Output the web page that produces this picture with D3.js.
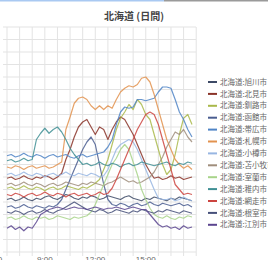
<!DOCTYPE html>
<html><head><meta charset="utf-8">
<script src="https://cdn.jsdelivr.net/npm/d3@7"></script>
<style>html,body{margin:0;padding:0;background:#fff;overflow:hidden}svg{display:block}</style>
</head><body>
<svg id="c" width="268" height="260"></svg>
<script>
const title = "北海道 (日間)";
const startTime = 6*60+45, stepMin = 15; // 45 points, 6:45 .. 17:45
const xTickLabels = ["6:00","9:00","12:00","15:00"];
const names = ["北海道:旭川市","北海道:北見市","北海道:釧路市","北海道:函館市","北海道:帯広市","北海道:札幌市","北海道:小樽市","北海道:苫小牧市","北海道:室蘭市","北海道:稚内市","北海道:網走市","北海道:根室市","北海道:江別市"];
const colors = ["#3d4a66","#8a3328","#a9b84a","#4a5d90","#4f84c6","#e2924e","#98b6e2","#a08e7c","#a8d48a","#3f8f94","#cc4440","#46507a","#5b458f"];
const s1 = [42,43,41,42,44,42,41,43,42,44,45,43,42,44,46,45,43,42,44,43,45,44,42,43,45,44,43,42,44,45,43,42,41,43,42,44,43,42,41,43,42,44,43,42,41];
const s2 = [59,60,58,59,61,59,58,60,59,61,60,58,60,63,74,82,92,100,104,106,100,94,100,98,90,98,104,108,106,100,94,86,78,70,64,59,60,58,59,61,59,60,58,59,60];
const s3 = [51,52,50,51,53,51,50,52,51,49,51,52,50,51,53,52,51,50,52,51,53,55,58,66,74,86,98,107,112,118,114,122,118,110,106,94,82,70,62,66,78,94,107,110,102];
const s4 = [36,37,35,36,38,36,35,37,36,35,37,36,38,42,50,58,66,74,82,88,92,86,70,54,42,38,37,39,38,36,38,39,37,38,40,38,37,39,38,37,38,39,37,38,36];
const s5 = [77,78,76,77,79,77,76,78,77,75,77,78,76,77,78,76,75,77,78,76,77,78,79,80,84,90,102,112,116,115,116,122,122,121,122,123,128,132,132,131,122,112,106,98,92];
const s6 = [68,67,69,68,66,68,69,67,68,69,67,68,70,72,98,108,119,123,124,122,117,114,117,114,117,115,122,128,131,133,132,134,139,140,136,126,114,102,90,82,74,70,67,69,66];
const s7 = [62,63,61,62,64,62,61,63,62,60,62,63,61,62,64,62,61,63,62,61,63,62,60,61,66,74,82,86,88,90,88,82,74,66,58,50,43,42,42,43,41,42,44,42,41];
const s8 = [54,55,53,54,56,54,53,55,54,52,54,55,53,54,56,55,54,53,55,54,56,55,54,53,55,56,58,60,58,56,57,55,56,58,60,64,70,76,84,90,96,94,98,92,88];
const s9 = [27,28,26,27,29,27,26,28,27,28,26,27,29,28,27,26,28,27,28,29,32,38,46,54,62,70,75,82,86,82,72,62,50,42,35,30,28,27,29,27,26,28,27,29,28];
const s10 = [73,74,72,73,75,73,74,90,95,99,95,98,100,96,90,83,78,74,70,71,69,70,72,70,69,71,70,68,70,71,69,70,72,71,70,69,70,71,72,70,69,71,70,72,71];
const s11 = [46,45,47,46,44,46,47,45,46,48,46,45,47,46,44,46,47,45,46,47,45,46,48,46,47,51,58,66,74,82,90,98,104,110,112,110,102,90,78,66,54,50,46,47,46];
const s12 = [32,31,33,32,30,32,33,31,32,34,32,31,33,34,36,38,40,38,36,34,33,32,34,33,31,32,34,33,32,31,33,32,34,33,32,31,33,32,34,33,32,31,33,32,31];
const s13 = [19,21,18,20,17,20,19,24,30,32,34,35,36,35,34,35,36,35,35,34,35,36,35,34,35,35,36,35,34,35,36,35,34,34,30,26,22,20,21,19,20,18,21,19,20];
const seriesValues = [s1,s2,s3,s4,s5,s6,s7,s8,s9,s10,s11,s12,s13];

const svg = d3.select("#c");
svg.append("rect").attr("x",0).attr("y",0).attr("width",164).attr("height",1.5).attr("fill","#a9c9f2");
svg.append("rect").attr("x",164).attr("y",0).attr("width",104).attr("height",1.5).attr("fill","#9a9a9a");

const x = d3.scaleLinear().domain([startTime, startTime+44*stepMin]).range([7,192]);
const y = d3.scaleLinear().domain([0,180]).range([252,27]);
const gx0 = 3, gx1 = 196, gy0 = 27, gy1 = 256;

const g = svg.append("g");
const vt = d3.range(6*60, 19*60, 45).map(x).filter(v=>v>=gx0-0.5 && v<=gx1+0.5);
g.selectAll("line.v").data(vt).join("line").attr("x1",d=>d).attr("x2",d=>d).attr("y1",gy0).attr("y2",gy1)
  .attr("stroke","#e3e3e3").attr("stroke-width",1);
const ht = d3.range(0, 190, 10).map(y);
g.selectAll("line.h").data(ht).join("line").attr("x1",gx0).attr("x2",gx1).attr("y1",d=>d).attr("y2",d=>d)
  .attr("stroke","#e3e3e3").attr("stroke-width",1);

const tickTimes = xTickLabels.map(s=>{const [h,m]=s.split(":").map(Number);return h*60+m;});
svg.selectAll("text.xl").data(xTickLabels).join("text")
  .attr("x",(d,i)=>x(tickTimes[i])).attr("y",262).attr("text-anchor","middle")
  .attr("font-family","Liberation Sans, Arial, sans-serif").attr("font-size",8).attr("fill","#666").text(d=>d);

const line = d3.line().x((d,i)=>x(startTime+i*stepMin)).y(d=>y(d));
svg.append("g").selectAll("path").data(seriesValues).join("path")
  .attr("d",line).attr("fill","none").attr("stroke",(d,i)=>colors[i]).attr("stroke-width",1.2)
  .attr("stroke-linejoin","round").attr("opacity",0.85);

svg.append("text").attr("x",134).attr("y",19.5).attr("text-anchor","middle")
  .attr("font-family","Noto Sans CJK JP, sans-serif").attr("font-weight","bold").attr("font-size",10)
  .attr("fill","#444").text(title);

const lg = svg.append("g");
const rows = lg.selectAll("g").data(names).join("g").attr("transform",(d,i)=>`translate(0,${82+i*11.9})`);
rows.append("line").attr("x1",208).attr("x2",217).attr("y1",0).attr("y2",0).attr("stroke",(d,i)=>colors[i]).attr("stroke-width",2);
rows.append("text").attr("x",220).attr("y",2.6).attr("font-family","Noto Sans CJK JP, sans-serif").attr("font-size",7.5)
  .attr("fill","#666").text(d=>d);
</script>
</body></html>
